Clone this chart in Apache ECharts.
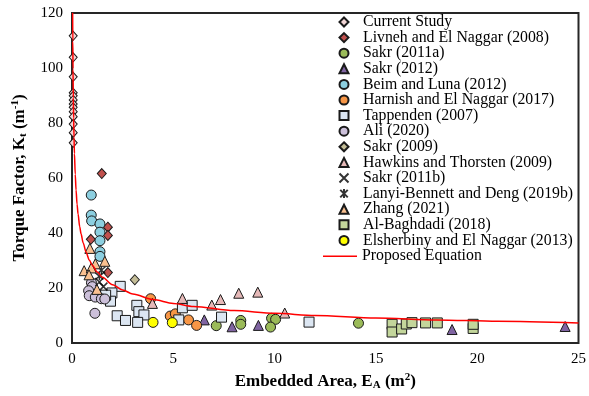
<!DOCTYPE html>
<html>
<head>
<meta charset="utf-8">
<script src="https://cdn.jsdelivr.net/npm/echarts@6/dist/echarts.min.js"></script>
<style>
  html, body { margin: 0; padding: 0; background: #fff; }
  #chart { width: 589px; height: 396px; }
</style>
</head>
<body>
<div id="chart"></div>
<script>
// Torque factor Kt (1/m) against embedded area EA (m^2), by source

const currentStudyX = [0.06, 0.06, 0.06, 0.06, 0.06, 0.06, 0.06, 0.06, 0.06, 0.06, 0.06, 0.06, 0.06];
const currentStudyY = [111.7, 103.9, 96.8, 91.0, 89.9, 88.4, 86.9, 85.7, 84.1, 82.3, 79.6, 76.5, 72.8];

const livnehX = [1.47, 1.77, 1.77, 0.93, 1.77];
const livnehY = [61.6, 42.1, 39.1, 37.7, 25.6];

const sakr2011aX = [7.12, 8.33, 8.33, 9.85, 10.05, 9.8, 14.14];
const sakr2011aY = [6.3, 8.2, 6.8, 9.0, 8.6, 5.8, 7.2];

const sakr2012X = [6.53, 7.9, 9.2, 18.76, 24.34];
const sakr2012Y = [8.4, 5.9, 6.4, 4.9, 6.0];

const beimX = [0.95, 0.95, 0.97, 1.38, 1.38, 1.38, 1.38, 1.38];
const beimY = [53.8, 46.5, 44.4, 43.3, 40.3, 37.2, 33.2, 31.5];

const harnishX = [3.88, 4.85, 5.1, 5.75, 6.15];
const harnishY = [16.1, 9.8, 10.6, 8.4, 6.4];

const tappendenX = [2.38, 1.97, 1.9, 1.66, 2.23, 2.64, 3.2, 3.3, 3.55, 3.24, 5.45, 5.93, 5.27, 7.38, 11.7];
const tappendenY = [20.6, 18.2, 15.2, 17.4, 9.9, 8.2, 13.7, 11.4, 10.2, 7.5, 12.8, 13.7, 8.4, 9.4, 7.6];

const aliX = [0.96, 1.0, 0.82, 0.85, 1.15, 1.45, 1.62, 1.13];
const aliY = [21.9, 20.5, 19.0, 17.2, 16.7, 16.1, 16.0, 10.8];

const sakr2009X = [3.1];
const sakr2009Y = [23.0];

const hawkinsX = [3.97, 5.45, 6.9, 7.33, 8.23, 9.17, 10.5];
const hawkinsY = [14.4, 16.2, 13.8, 15.8, 18.1, 18.5, 10.9];

const sakr2011bX = [1.35, 1.55];
const sakr2011bY = [22.2, 20.5];

const lanyiX = [1.45, 1.35];
const lanyiY = [26.5, 24.3];

const zhangX = [0.88, 1.62, 1.15, 0.6, 0.95, 0.84, 1.23];
const zhangY = [34.4, 29.7, 28.8, 26.3, 27.3, 24.8, 19.5];

const baghdadiX = [15.8, 15.8, 16.27, 16.5, 16.78, 17.45, 18.03, 19.8, 19.8];
const baghdadiY = [6.8, 4.0, 5.1, 6.9, 7.4, 7.3, 7.3, 5.3, 6.8];

const elsherbinyX = [4.0, 4.95];
const elsherbinyY = [7.5, 7.4];

// Proposed equation curve, sampled along its length
const curveX = [0.032, 0.04, 0.05, 0.065, 0.08, 0.1, 0.12, 0.16, 0.2, 0.25, 0.3, 0.38, 0.45, 0.55, 0.7, 0.85, 1, 1.25, 1.5, 2, 2.5, 3, 4, 5, 6, 8, 10, 12, 15, 18, 21, 25];
const curveY = [120.1, 109.7, 99.6, 89.2, 81.8, 74.8, 68.9, 61.4, 55.6, 50.5, 46.9, 42.3, 39.6, 36.4, 32.9, 30.2, 28.3, 25.8, 23.9, 21.2, 19.3, 17.8, 15.8, 14.4, 13.3, 11.8, 10.8, 10.0, 9.1, 8.4, 7.9, 7.3];

const xTicks = { min: 0, max: 25, interval: 5 };
const yTicks = { min: 0, max: 120, interval: 20 };

const pair = (xs, ys) => xs.map((x, i) => [x, ys[i]]);

const FONT = 'Liberation Serif';
const EDGE = '#1a1a1a';

const crossPath = 'path://M0,0L10,10M10,0L0,10';
const starPath = 'path://M0,0L10,10M10,0L0,10M5,-1L5,11';

function scatter(name, xs, ys, symbol, fill, size, extra) {
  return Object.assign({
    name: name,
    type: 'scatter',
    data: pair(xs, ys),
    symbol: symbol,
    symbolSize: size,
    itemStyle: { color: fill, borderColor: EDGE, borderWidth: 1, opacity: 1 },
    emphasis: { disabled: true }
  }, extra || {});
}

const series = [
  scatter('Current Study', currentStudyX, currentStudyY, 'diamond', '#f2d6d6', [8, 9]),
  scatter('Livneh and El Naggar (2008)', livnehX, livnehY, 'diamond', '#c0504d', [9, 10]),
  scatter('Sakr (2011a)', sakr2011aX, sakr2011aY, 'circle', '#9bbb59', 10),
  scatter('Sakr (2012)', sakr2012X, sakr2012Y, 'triangle', '#8064a2', 10),
  scatter('Beim and Luna (2012)', beimX, beimY, 'circle', '#8ccfe0', 10),
  scatter('Harnish and El Naggar (2017)', harnishX, harnishY, 'circle', '#f79646', 10),
  scatter('Tappenden (2007)', tappendenX, tappendenY, 'rect', '#dce6f2', 10),
  scatter('Ali (2020)', aliX, aliY, 'circle', '#ccc0da', 10),
  scatter('Sakr (2009)', sakr2009X, sakr2009Y, 'diamond', '#c4bd97', [9, 10]),
  scatter('Hawkins and Thorsten (2009)', hawkinsX, hawkinsY, 'triangle', '#e6b9b8', 10),
  scatter('Sakr (2011b)', sakr2011bX, sakr2011bY, crossPath, '#000', 8,
    { itemStyle: { color: '#000', borderColor: '#000', borderWidth: 1.5 } }),
  scatter('Lanyi-Bennett and Deng (2019b)', lanyiX, lanyiY, starPath, '#000', 8,
    { itemStyle: { color: '#000', borderColor: '#000', borderWidth: 1.5 } }),
  scatter('Zhang (2021)', zhangX, zhangY, 'triangle', '#fac090', 10),
  scatter('Al-Baghdadi (2018)', baghdadiX, baghdadiY, 'rect', '#c3d69b', 10),
  scatter('Elsherbiny and El Naggar (2013)', elsherbinyX, elsherbinyY, 'circle', '#ffff00', 10),
  {
    name: 'Proposed Equation',
    type: 'line',
    data: pair(curveX, curveY),
    symbol: 'none',
    smooth: 0.3,
    smoothMonotone: 'x',
    lineStyle: { color: '#ff0000', width: 1.5 },
    itemStyle: { color: '#ff0000' },
    z: 5,
    emphasis: { disabled: true }
  }
];

const markerNames = series.filter(s => s.type === 'scatter').map(s => s.name);

const chart = echarts.init(document.getElementById('chart'), null, { renderer: 'canvas' });

const legendText = { fontFamily: FONT, fontSize: 15.8, lineHeight: 15.6, color: '#000' };

chart.setOption({
  animation: false,
  backgroundColor: '#ffffff',
  textStyle: { fontFamily: FONT, color: '#000' },
  grid: {
    left: 72, right: 9, top: 13, bottom: 53,
    show: true, borderColor: '#262626', borderWidth: 2, backgroundColor: 'transparent'
  },
  legend: [
    {
      data: markerNames,
      orient: 'vertical',
      left: 338.5,
      top: 14,
      padding: 0,
      itemWidth: 9,
      itemHeight: 9,
      itemGap: -0.4,
      selectedMode: false,
      textStyle: Object.assign({ padding: [0, 0, 0, 9.5] }, legendText)
    },
    {
      data: [{ name: 'Proposed Equation', icon: 'rect' }],
      orient: 'vertical',
      left: 323,
      top: 248.2,
      padding: 0,
      itemWidth: 34,
      itemHeight: 1.5,
      selectedMode: false,
      textStyle: legendText
    }
  ],
  xAxis: {
    type: 'value',
    min: xTicks.min, max: xTicks.max, interval: xTicks.interval,
    axisLine: { show: false },
    axisTick: { show: false },
    splitLine: { show: false },
    axisLabel: { fontFamily: FONT, fontSize: 15, color: '#000', margin: 9 },
    name: '{b|Embedded Area, E}{bs|A}{b| (m}{bp|2}{b|)}',
    nameLocation: 'middle',
    nameGap: 29,
    nameTextStyle: {
      rich: {
        b: { fontFamily: FONT, fontSize: 17, fontWeight: 'bold', color: '#000' },
        bs: { fontFamily: FONT, fontSize: 11, fontWeight: 'bold', color: '#000', padding: [8, 0, 0, 0] },
        bp: { fontFamily: FONT, fontSize: 11, fontWeight: 'bold', color: '#000', padding: [0, 0, 8, 0] }
      }
    }
  },
  yAxis: {
    type: 'value',
    min: yTicks.min, max: yTicks.max, interval: yTicks.interval,
    axisLine: { show: false },
    axisTick: { show: false },
    splitLine: { show: false },
    axisLabel: { fontFamily: FONT, fontSize: 15, color: '#000', margin: 9 },
    name: '{b|Torque Factor, K}{bs|t}{b| (m}{bp|-1}{b|)}',
    nameLocation: 'middle',
    nameGap: 43,
    nameTextStyle: {
      rich: {
        b: { fontFamily: FONT, fontSize: 17, fontWeight: 'bold', color: '#000' },
        bs: { fontFamily: FONT, fontSize: 11, fontWeight: 'bold', color: '#000', padding: [8, 0, 0, 0] },
        bp: { fontFamily: FONT, fontSize: 11, fontWeight: 'bold', color: '#000', padding: [0, 0, 8, 0] }
      }
    }
  },
  series: series
});
</script>
</body>
</html>
